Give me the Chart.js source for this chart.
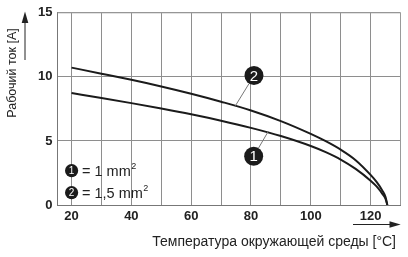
<!DOCTYPE html>
<html>
<head>
<meta charset="utf-8">
<script src="https://cdn.jsdelivr.net/npm/chart.js@4/dist/chart.umd.min.js"></script>
<style>
  html, body { margin: 0; padding: 0; background: #fff; }
  #chart { display: block; }
</style>
</head>
<body>
<canvas id="chart" width="408" height="257"></canvas>
<script>
// values
const temps = [20, 30, 40, 50, 60, 70, 80, 90, 100, 105, 110, 115, 120, 122, 124, 125, 125.6];
const current1mm = [8.74, 8.35, 7.95, 7.53, 7.08, 6.58, 6.02, 5.38, 4.6, 4.12, 3.55, 2.82, 1.9, 1.45, 0.85, 0.48, 0];
const current15mm = [10.72, 10.25, 9.77, 9.25, 8.68, 8.06, 7.38, 6.55, 5.55, 4.98, 4.32, 3.5, 2.35, 1.8, 1.1, 0.62, 0];

const xTicks = [20, 30, 40, 50, 60, 70, 80, 90, 100, 110, 120];
const xLabelled = [20, 40, 60, 80, 100, 120];
const yTicks = [0, 5, 10, 15];

const xTitle = "Температура окружающей среды [°C]";
const yTitle = "Рабочий ток [A]";
const legendLabels = ["= 1 mm", "= 1,5 mm"];

// callouts: number, circle centre, point on curve (data units)
const callouts = [
  { label: "2", at: [81.0, 10.1], to: [74.8, 7.75] },
  { label: "1", at: [80.9, 3.8], to: [85.8, 5.75] }
];

const FONT = "'Liberation Sans', Arial, sans-serif";

function toPoints(xs, ys) {
  return xs.map((x, i) => ({ x: x, y: ys[i] }));
}

function numberBadge(ctx, x, y, r, text, size) {
  ctx.beginPath();
  ctx.arc(x, y, r, 0, Math.PI * 2);
  ctx.fillStyle = "#1b1b1b";
  ctx.fill();
  ctx.fillStyle = "#fff";
  ctx.font = size + "px " + FONT;
  ctx.textAlign = "center";
  ctx.textBaseline = "middle";
  ctx.fillText(text, x, y + 1);
}

const extras = {
  id: "extras",
  afterDraw(chart) {
    const ctx = chart.ctx;
    const area = chart.chartArea;
    const xs = chart.scales.x;
    const ys = chart.scales.y;
    ctx.save();

    // top and right frame
    ctx.strokeStyle = "#9a9a9a";
    ctx.lineWidth = 1;
    ctx.beginPath();
    ctx.moveTo(area.left, area.top);
    ctx.lineTo(area.right, area.top);
    ctx.lineTo(area.right, area.bottom);
    ctx.stroke();

    // callouts
    callouts.forEach(c => {
      const cx = xs.getPixelForValue(c.at[0]);
      const cy = ys.getPixelForValue(c.at[1]);
      const px = xs.getPixelForValue(c.to[0]);
      const py = ys.getPixelForValue(c.to[1]);
      const ang = Math.atan2(py - cy, px - cx);
      ctx.strokeStyle = "#777";
      ctx.lineWidth = 1;
      ctx.beginPath();
      ctx.moveTo(cx + Math.cos(ang) * 9.5, cy + Math.sin(ang) * 9.5);
      ctx.lineTo(px, py);
      ctx.stroke();
      numberBadge(ctx, cx, cy, 9.5, c.label, 15);
    });

    // legend
    legendLabels.forEach((t, i) => {
      const y = 170.7 + i * 22;
      numberBadge(ctx, 71.6, y, 6.6, String(i + 1), 10);
      ctx.fillStyle = "#222";
      ctx.font = "14.5px " + FONT;
      ctx.textAlign = "left";
      ctx.textBaseline = "alphabetic";
      ctx.fillText(t, 82, y + 5.5);
      const w = ctx.measureText(t).width;
      ctx.font = "9px " + FONT;
      ctx.fillText("2", 82 + w + 0.5, y - 1.5);
    });

    // y title and arrow
    ctx.fillStyle = "#222";
    ctx.font = "12.5px " + FONT;
    ctx.translate(13, 73);
    ctx.rotate(-Math.PI / 2);
    ctx.textAlign = "center";
    ctx.textBaseline = "middle";
    ctx.fillText(yTitle, 0, 0);
    ctx.setTransform(1, 0, 0, 1, 0, 0);

    ctx.strokeStyle = "#222";
    ctx.lineWidth = 1;
    ctx.beginPath();
    ctx.moveTo(25, 60);
    ctx.lineTo(25, 20);
    ctx.stroke();
    ctx.beginPath();
    ctx.moveTo(25, 11.5);
    ctx.lineTo(21.7, 23);
    ctx.lineTo(28.3, 23);
    ctx.closePath();
    ctx.fill();

    // x title and arrow
    ctx.font = "14px " + FONT;
    ctx.textAlign = "right";
    ctx.textBaseline = "alphabetic";
    ctx.fillText(xTitle, 396, 245.5);

    ctx.beginPath();
    ctx.moveTo(353, 224.5);
    ctx.lineTo(392, 224.5);
    ctx.stroke();
    ctx.beginPath();
    ctx.moveTo(400.7, 224.5);
    ctx.lineTo(389.5, 221.2);
    ctx.lineTo(389.5, 227.8);
    ctx.closePath();
    ctx.fill();

    ctx.restore();
  }
};

new Chart(document.getElementById("chart"), {
  type: "line",
  data: {
    datasets: [
      {
        label: "1 mm²",
        data: toPoints(temps, current1mm),
        borderColor: "#1b1b1b",
        borderWidth: 2,
        pointRadius: 0,
        cubicInterpolationMode: "monotone",
        fill: false
      },
      {
        label: "1,5 mm²",
        data: toPoints(temps, current15mm),
        borderColor: "#1b1b1b",
        borderWidth: 2,
        pointRadius: 0,
        cubicInterpolationMode: "monotone",
        fill: false
      }
    ]
  },
  options: {
    responsive: false,
    animation: false,
    devicePixelRatio: 1,
    layout: { padding: { top: 10.5, right: 7.5, left: 0, bottom: 0 } },
    plugins: {
      legend: { display: false },
      tooltip: { enabled: false }
    },
    scales: {
      x: {
        type: "linear",
        min: 15.3,
        max: 130,
        afterBuildTicks: s => { s.ticks = xTicks.map(v => ({ value: v })); },
        afterFit: s => { s.height = 52; },
        ticks: {
          autoSkip: false,
          maxRotation: 0,
          padding: 4,
          color: "#222",
          font: { family: FONT, size: 13, weight: "bold" },
          callback: v => xLabelled.includes(v) ? v : ""
        },
        grid: { color: "#8e8e8e", lineWidth: 1, drawTicks: false },
        border: { color: "#777", width: 1 }
      },
      y: {
        min: 0,
        max: 15,
        afterBuildTicks: s => { s.ticks = yTicks.map(v => ({ value: v })); },
        afterFit: s => { s.width = 57.5; },
        ticks: {
          padding: 5,
          color: "#222",
          font: { family: FONT, size: 13, weight: "bold" }
        },
        grid: { color: "#8e8e8e", lineWidth: 1, drawTicks: false },
        border: { color: "#777", width: 1 }
      }
    }
  },
  plugins: [extras]
});
</script>
</body>
</html>
